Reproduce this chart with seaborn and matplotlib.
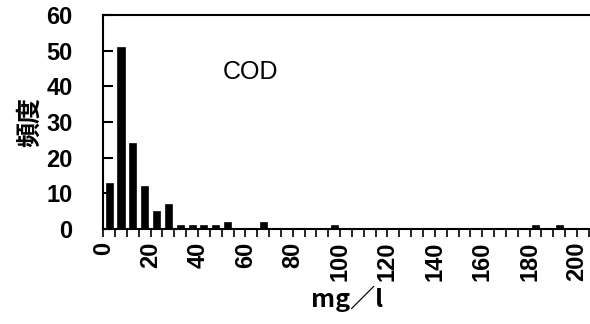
import numpy as np
import matplotlib
matplotlib.use("Agg")
import matplotlib.pyplot as plt
from matplotlib import font_manager
import seaborn as sns

# COD frequency per 5 mg/l class (class centres)
bin_mid = [2.5, 7.5, 12.5, 17.5, 22.5, 27.5, 32.5, 37.5, 42.5, 47.5, 52.5, 67.5, 97.5, 182.5, 192.5]
freq = [13, 51, 24, 12, 5, 7, 1, 1, 1, 1, 2, 2, 1, 1, 1]
xticks = list(range(0, 201, 20))
yticks = list(range(0, 61, 10))

sns.set_style("ticks")
plt.rcParams['font.family'] = ['Liberation Sans', 'Noto Sans CJK JP']
for k in ["text.color", "axes.labelcolor", "xtick.color", "ytick.color"]:
    plt.rcParams[k] = "black"

# pick the real Arial-like files
files = font_manager.findSystemFonts()
bold_f = [f for f in files if f.endswith("LiberationSans-Bold.ttf")]
reg_f = [f for f in files if f.endswith("LiberationSans-Regular.ttf")]
fp_bold = font_manager.FontProperties(fname=bold_f[0], size=17) if bold_f else font_manager.FontProperties(weight="bold", size=17)
fp_reg = font_manager.FontProperties(fname=reg_f[0], size=18) if reg_f else font_manager.FontProperties(size=18)

fig = plt.figure(figsize=(5.9, 3.24), dpi=100)
ax = fig.add_axes([0.175, 0.293, 0.825, 0.661])

sns.histplot(x=bin_mid, weights=freq, binwidth=5, binrange=(0, 205),
             shrink=0.6, color="black", edgecolor="black", alpha=1, ax=ax)

ax.set_xlim(0, 205.5)
ax.set_ylim(0, 60)
ax.set_xticks(xticks)
ax.set_xticks(np.arange(0, 206, 5), minor=True)
ax.set_yticks(yticks)
ax.set_xticklabels([str(t) for t in xticks], rotation=90, fontproperties=fp_bold)
ax.set_yticklabels([str(t) for t in yticks], fontproperties=fp_bold)
ax.tick_params(axis="x", direction="out", length=6, width=1.2, pad=3, which="both")
ax.tick_params(axis="y", direction="in", length=7, width=1.5, pad=22)
ax.spines["right"].set_visible(False)
for s in ["left", "bottom", "top"]:
    ax.spines[s].set_linewidth(1.5)
    ax.spines[s].set_color("black")

ax.text(50.5, 44, "COD", fontproperties=fp_reg, va="center", ha="left")
ax.set_xlabel("mg／l", fontsize=18, fontweight="bold",
              family=['Noto Sans CJK JP', 'DejaVu Sans'], labelpad=3)
ax.set_ylabel("頻度", fontsize=18, fontweight="bold",
              family=['Noto Sans CJK JP', 'DejaVu Sans'], labelpad=3)

fig.savefig("out.png", dpi=100)
